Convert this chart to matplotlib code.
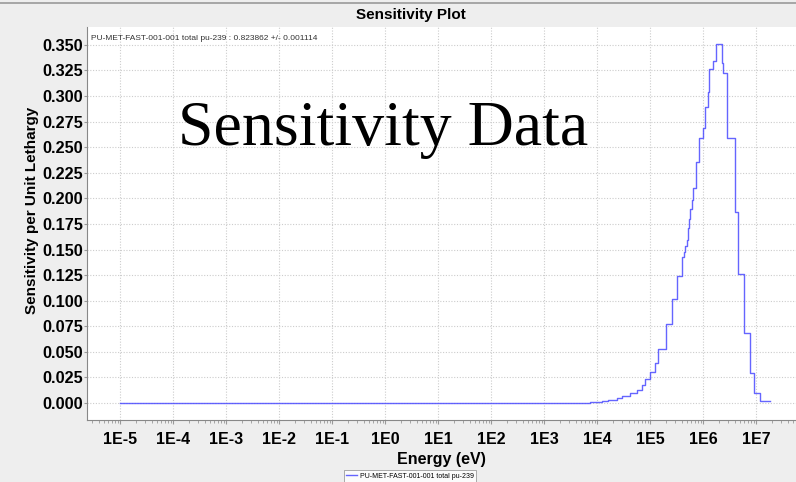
import numpy as np
import matplotlib
matplotlib.use('Agg')
import matplotlib.pyplot as plt
from matplotlib.ticker import FixedLocator, FuncFormatter, LogLocator, NullFormatter

plt.rcParams['font.family'] = ['Liberation Sans', 'DejaVu Sans']

# group boundaries (eV) and sensitivity per unit lethargy in each group
energy_edges = [1e-5, 7.4e3, 1.24e4, 1.6e4, 2.4e4, 3.0e4, 4.2e4, 5.7e4, 7.1e4, 8.0e4,
                1.0e5, 1.24e5, 1.4e5, 2.0e5, 2.6e5, 3.2e5, 4.0e5, 4.3e5, 4.6e5, 4.9e5,
                5.2e5, 5.5e5, 5.7e5, 6.2e5, 6.6e5, 7.4e5, 8.4e5, 1.0e6, 1.09e6, 1.24e6,
                1.3e6, 1.55e6, 1.76e6, 2.28e6, 2.38e6, 2.84e6, 4.02e6, 4.57e6, 5.94e6,
                7.71e6, 9.16e6, 1.19e7, 1.84e7]
sensitivity = [0.0, 0.0007, 0.0015, 0.003, 0.005, 0.0068, 0.0095, 0.013, 0.0176,
               0.023, 0.030, 0.039, 0.053, 0.077, 0.102, 0.124, 0.143, 0.148, 0.153,
               0.159, 0.171, 0.180, 0.190, 0.198, 0.210, 0.236, 0.259, 0.269, 0.289,
               0.304, 0.326, 0.334, 0.351, 0.332, 0.323, 0.259, 0.187, 0.126, 0.068,
               0.029, 0.0095, 0.002]
decades = list(range(-5, 8))
series_name = 'PU-MET-FAST-001-001 total pu-239'
info_text = 'PU-MET-FAST-001-001 total pu-239 : 0.823862 +/- 0.001114'

bg = '#eeeeee'
fig = plt.figure(figsize=(7.96, 4.82), dpi=100, facecolor=bg)
ax = fig.add_axes([87 / 796, 1 - 420 / 482, 1 - 87 / 796, (420 - 27) / 482])
ax.set_facecolor('white')

# step histogram
y = sensitivity + [sensitivity[-1]]
ax.step(energy_edges, y, where='post', color='#4a4aff', lw=1.0, alpha=0.85,
        label=series_name)

ax.set_xscale('log')
ax.set_xlim(10 ** -5.623, 10 ** 7.755)
ax.set_ylim(-0.0166, 0.3675)

ax.xaxis.set_major_locator(FixedLocator([10.0 ** d for d in decades]))
ax.xaxis.set_major_formatter(FuncFormatter(lambda v, p: '1E%d' % int(round(np.log10(v)))))
ax.xaxis.set_minor_locator(LogLocator(base=10, subs=np.arange(2, 10), numticks=30))
ax.xaxis.set_minor_formatter(NullFormatter())
ax.set_yticks(np.arange(0, 0.3501, 0.025))
ax.yaxis.set_major_formatter(FuncFormatter(lambda v, p: '%.3f' % v))

ax.grid(True, which='major', color='#cccccc', linestyle=(0, (1, 1.5)), lw=0.8)
ax.tick_params(axis='x', which='major', length=3, pad=6, color='#999999',
               labelsize=11.5)
ax.tick_params(axis='x', which='minor', length=2, color='#999999')
ax.tick_params(axis='y', length=2, pad=1, color='#999999', labelsize=11.7)
for lab in ax.get_xticklabels() + ax.get_yticklabels():
    lab.set_fontweight('bold')

for s in ['top', 'right']:
    ax.spines[s].set_visible(False)
for s in ['left', 'bottom']:
    ax.spines[s].set_color('#888888')
    ax.spines[s].set_linewidth(0.8)

ax.set_xlabel('Energy (eV)', fontsize=11.5, fontweight='bold', labelpad=3)
ax.set_ylabel('Sensitivity per Unit Lethargy', fontsize=11, fontweight='bold')
ax.yaxis.set_label_coords(-48 / 709, 0.534)

fig.text(411 / 796, 1 - 15 / 482, 'Sensitivity Plot', ha='center', va='center',
         fontsize=11, fontweight='bold')
fig.add_artist(plt.Line2D([0, 1], [1 - 2.5 / 482, 1 - 2.5 / 482], color='#999999', lw=1.2))

ax.text(0.006, 0.98, info_text, transform=ax.transAxes, ha='left', va='top',
        fontsize=6, color='#333333')

fig.text(178 / 796, 1 - 145 / 482, 'Sensitivity Data', ha='left', va='baseline',
         fontsize=46, family='Liberation Serif', color='black')

leg = fig.legend(loc='center', bbox_to_anchor=(410 / 796, 1 - 476 / 482),
                 fontsize=5, frameon=True, fancybox=False, handlelength=1.5,
                 borderpad=0.4, handletextpad=0.4)
leg.get_frame().set_edgecolor('#888888')
leg.get_frame().set_linewidth(0.6)

fig.savefig('out.png', dpi=100, facecolor=bg)
